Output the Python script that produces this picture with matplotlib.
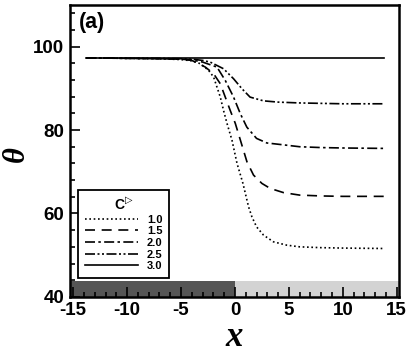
import matplotlib
matplotlib.use('Agg')
import matplotlib.pyplot as plt
from matplotlib.patches import Rectangle
from matplotlib.ticker import MultipleLocator

# values
x_c10 = [-13.8, -10, -7, -5, -4, -3.2, -2.44, -1.98, -1.67, -1.36, -1.06, -0.74, -0.28,
         0.19, 0.74, 1.26, 1.57, 2.0, 2.65, 3.57, 4.8, 6.0, 8.0, 10.0, 13.8]
y_c10 = [97.3, 97.2, 97.1, 96.9, 96.6, 95.9, 94.3, 92.7, 90.3, 87.9, 84.7, 81.6, 77.6,
         72.0, 67.2, 61.6, 59.2, 56.8, 54.8, 53.2, 52.4, 52.0, 51.8, 51.7, 51.6]

x_c15 = [-13.8, -10, -7, -5, -4, -2.75, -1.98, -1.36, -0.9, -0.44, 0.03, 0.5, 1.11,
         1.72, 2.5, 3.27, 4.5, 6.0, 8.0, 10.0, 13.8]
y_c15 = [97.3, 97.2, 97.1, 97.0, 96.7, 95.1, 93.5, 91.1, 87.9, 84.7, 81.6, 77.6, 72.4,
         69.2, 67.2, 66.0, 65.0, 64.4, 64.2, 64.1, 64.1]

x_c20 = [-13.8, -10, -7, -5, -4, -3, -1.67, -0.9, -0.13, 0.5, 1.1, 2.0, 2.96, 4.0,
         6.0, 8.0, 10.0, 13.8]
y_c20 = [97.3, 97.2, 97.1, 97.0, 96.8, 96.3, 95.1, 91.9, 87.9, 83.9, 80.7, 78.0, 76.9, 76.6,
         76.0, 75.8, 75.7, 75.6]

x_c25 = [-13.8, -10, -7, -5, -4, -3, -2.3, -1.06, -0.13, 0.65, 1.4, 2.65, 4.0,
         6.0, 8.0, 10.0, 13.8]
y_c25 = [97.3, 97.2, 97.2, 97.1, 97.0, 96.7, 96.3, 94.7, 92.3, 89.9, 87.9, 87.0, 86.7,
         86.5, 86.4, 86.3, 86.3]

x_c30 = [-13.8, 13.8]
y_c30 = [97.3, 97.3]

labels = ['1.0', '1.5', '2.0', '2.5', '3.0']

plt.rcParams['font.family'] = ['Liberation Sans', 'DejaVu Sans']
plt.rcParams['font.weight'] = 'bold'
plt.rcParams['axes.unicode_minus'] = False

fig = plt.figure(figsize=(4.07, 3.53), dpi=100, facecolor='white')
ax = fig.add_axes([0.172, 0.159, 0.808, 0.827])

lw = 1.2
ax.plot(x_c10, y_c10, color='black', lw=lw, linestyle=(0, (1, 1.6)), label=labels[0])
ax.plot(x_c15, y_c15, color='black', lw=lw, linestyle=(0, (6, 4)), label=labels[1])
ax.plot(x_c20, y_c20, color='black', lw=lw, linestyle=(0, (6, 2, 1.5, 2)), label=labels[2])
ax.plot(x_c25, y_c25, color='black', lw=lw, linestyle=(0, (6, 1.5, 1.2, 1.5, 1.2, 1.5)),
        label=labels[3])
ax.plot(x_c30, y_c30, color='black', lw=lw, linestyle='-', label=labels[4])

xlo, xhi = -15.3, 15.2
ylo, yhi = 40, 110
ax.set_xlim(xlo, xhi)
ax.set_ylim(ylo, yhi)

# shaded strip along the bottom
ax.add_patch(Rectangle((xlo, ylo), 0 - xlo, 3.7, facecolor='#555555', edgecolor='none', zorder=0))
ax.add_patch(Rectangle((0, ylo), xhi, 3.7, facecolor='#d3d3d3', edgecolor='none', zorder=0))

ax.xaxis.set_major_locator(MultipleLocator(5))
ax.xaxis.set_minor_locator(MultipleLocator(1))
ax.yaxis.set_major_locator(MultipleLocator(20))
ax.yaxis.set_minor_locator(MultipleLocator(4))
ax.tick_params(which='both', direction='in', top=False, right=False, width=1.2,
               labelsize=13.5, pad=4)
ax.tick_params(which='major', length=7)
ax.tick_params(which='minor', length=3.5)
for lab in ax.get_xticklabels() + ax.get_yticklabels():
    lab.set_fontweight('bold')
for s in ax.spines.values():
    s.set_linewidth(1.8)

ax.set_xlabel('x', family='Liberation Serif', style='italic', fontweight='bold',
              fontsize=25, labelpad=1)
ax.set_ylabel('θ', family='Liberation Serif', style='italic', fontweight='bold',
              fontsize=22)
ax.yaxis.set_label_coords(-0.12, 0.49)

ax.text(0.026, 0.975, '(a)', transform=ax.transAxes, fontsize=15.5, fontweight='bold',
        va='top', ha='left')

leg = ax.legend(loc='lower left', bbox_to_anchor=(0.024, 0.065), borderaxespad=0,
                frameon=True, fancybox=False, edgecolor='black', framealpha=1,
                prop={'size': 8, 'weight': 'bold'}, handlelength=4.8,
                handletextpad=0.8, labelspacing=0.15, borderpad=0.6,
                title=r'C$^{\triangleright}$', title_fontproperties={'size': 10, 'weight': 'bold'})
leg.get_frame().set_linewidth(1.3)

fig.savefig('out.png', dpi=100, facecolor='white')
